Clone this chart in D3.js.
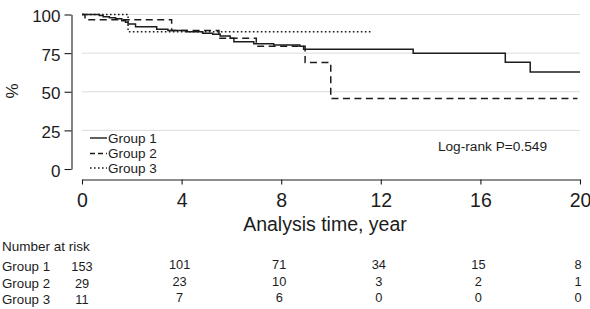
<!DOCTYPE html>
<html>
<head>
<meta charset="utf-8">
<script src="https://cdn.jsdelivr.net/npm/d3@7"></script>
<style>
  html, body { margin: 0; padding: 0; background: #fff; }
  svg { display: block; font-family: "Liberation Sans", Arial, Helvetica, sans-serif; }
</style>
</head>
<body>
<svg id="chart" width="590" height="309"></svg>
<script>
// ---- Data ----
const groups = ["Group 1", "Group 2", "Group 3"];

// Kaplan-Meier step times (years) and survival (%) after each step
const group1Times = [0, 0.7, 0.85, 1.1, 1.35, 1.6, 1.75, 1.85, 2.15, 3.0, 3.45, 4.2, 4.85, 5.25, 5.55, 5.95, 6.1, 6.9, 7.7, 8.75, 8.9, 13.3, 17.0, 18.0];
const group1Surv  = [100, 99.3, 98.6, 97.9, 97.2, 96.0, 95.0, 93.9, 92.1, 90.4, 89.6, 88.9, 87.8, 87.2, 86.1, 84.6, 82.4, 81.1, 80.3, 79.4, 77.5, 74.9, 69.1, 62.8];
const group1End = 20;

const group2Times = [0, 0.12, 3.6, 5.5, 7.0, 8.96, 9.99];
const group2Surv  = [100, 96.6, 89.7, 84.6, 79.4, 68.9, 45.6];
const group2End = 19.9;

const group3Times = [0, 1.85];
const group3Surv  = [100, 88.9];
const group3End = 11.63;

const yTicks = [0, 25, 50, 75, 100];
const gridValues = [25, 50, 75, 100];
const xTicks = [0, 4, 8, 12, 16, 20];

const riskTimes = [0, 4, 8, 12, 16, 20];
const riskGroup1 = [153, 101, 71, 34, 15, 8];
const riskGroup2 = [29, 23, 10, 3, 2, 1];
const riskGroup3 = [11, 7, 6, 0, 0, 0];

const logRankText = "Log-rank P=0.549";

// ---- Drawing ----
const svg = d3.select("#chart");
const ink = "#1c1c1c";

const x = d3.scaleLinear().domain([0, 20]).range([82, 580]);
const y = d3.scaleLinear().domain([0, 100]).range([169, 14.5]);

// grid
svg.append("g").selectAll("line").data(gridValues).join("line")
  .attr("x1", x(0)).attr("x2", x(20))
  .attr("y1", d => y(d)).attr("y2", d => y(d))
  .attr("stroke", "#dcdcdc").attr("stroke-width", 1);

// y axis
const yAxis = svg.append("g").attr("transform", "translate(71.5,0)")
  .call(d3.axisLeft(y).tickValues(yTicks).tickSize(7).tickSizeOuter(0).tickPadding(4));
yAxis.select(".domain").attr("stroke", ink).attr("stroke-width", 1.1);
yAxis.selectAll(".tick line").attr("stroke", ink).attr("stroke-width", 1.1);
yAxis.selectAll(".tick text").attr("font-size", 17).attr("fill", ink)
  .attr("font-family", "Liberation Sans, Arial, sans-serif").attr("dy", "0.42em");

// x axis
const xAxis = svg.append("g").attr("transform", "translate(0,179.5)")
  .call(d3.axisBottom(x).tickValues(xTicks).tickSize(5).tickSizeOuter(0).tickPadding(8));
xAxis.select(".domain").attr("stroke", ink).attr("stroke-width", 1.1);
xAxis.selectAll(".tick line").attr("stroke", ink).attr("stroke-width", 1.1);
xAxis.selectAll(".tick text").attr("font-size", 19.5).attr("fill", ink)
  .attr("font-family", "Liberation Sans, Arial, sans-serif").attr("dy", "0.72em");

// axis titles
svg.append("text").attr("x", 325).attr("y", 231).attr("text-anchor", "middle")
  .attr("font-size", 19.5).attr("fill", ink).text("Analysis time, year");
svg.append("text").attr("transform", "translate(18,91) rotate(-90)")
  .attr("text-anchor", "middle").attr("font-size", 17).attr("fill", ink).text("%");

// curves
const line = d3.line().x(d => x(d[0])).y(d => y(d[1])).curve(d3.curveStepAfter);
function pts(times, surv, end) {
  const p = times.map((t, i) => [t, surv[i]]);
  p.push([end, surv[surv.length - 1]]);
  return p;
}
const series = [
  { name: groups[0], data: pts(group1Times, group1Surv, group1End), dash: null, width: 1.5 },
  { name: groups[1], data: pts(group2Times, group2Surv, group2End), dash: "7,4.5", width: 1.5 },
  { name: groups[2], data: pts(group3Times, group3Surv, group3End), dash: "1.6,2.4", width: 1.5 }
];
svg.append("g").selectAll("path").data(series).join("path")
  .attr("d", d => line(d.data))
  .attr("fill", "none").attr("stroke", ink)
  .attr("stroke-width", d => d.width)
  .attr("stroke-dasharray", d => d.dash);

// legend
const legY = [138, 153.5, 168];
const leg = svg.append("g").selectAll("g").data(series).join("g")
  .attr("transform", (d, i) => `translate(0,${legY[i]})`);
leg.append("line").attr("x1", 90).attr("x2", 107).attr("y1", 0).attr("y2", 0)
  .attr("stroke", ink).attr("stroke-width", 1.4)
  .attr("stroke-dasharray", d => d.dash ? (d.dash === "7,4.5" ? "5,3" : "1.6,2.4") : null);
leg.append("text").attr("x", 108).attr("y", 0).attr("dy", "0.36em")
  .attr("font-size", 13.5).attr("fill", ink).text(d => d.name);

// log-rank
svg.append("text").attr("x", 492.5).attr("y", 146).attr("dy", "0.36em")
  .attr("text-anchor", "middle").attr("font-size", 13.7).attr("fill", ink).text(logRankText);

// number at risk table
svg.append("text").attr("x", 2).attr("y", 250.5).attr("font-size", 13.5)
  .attr("fill", ink).text("Number at risk");
const riskRows = [riskGroup1, riskGroup2, riskGroup3];
const rowY = [270.5, 287.5, 303.5];
const rows = svg.append("g").selectAll("g").data(riskRows).join("g")
  .attr("transform", (d, i) => `translate(0,${rowY[i]})`);
rows.append("text").attr("x", 2).attr("y", 0).attr("font-size", 13.3).attr("fill", ink)
  .text((d, i) => groups[i]);
rows.selectAll("text.n").data(d => d.map((v, j) => [riskTimes[j], v])).join("text")
  .attr("class", "n")
  .attr("x", d => x(d[0]) - (d[0] === 0 ? 0 : 2))
  .attr("y", d => d[0] === 0 ? 0 : -1.5)
  .attr("text-anchor", "middle").attr("font-size", 12.8).attr("fill", ink)
  .text(d => d[1]);
</script>
</body>
</html>
